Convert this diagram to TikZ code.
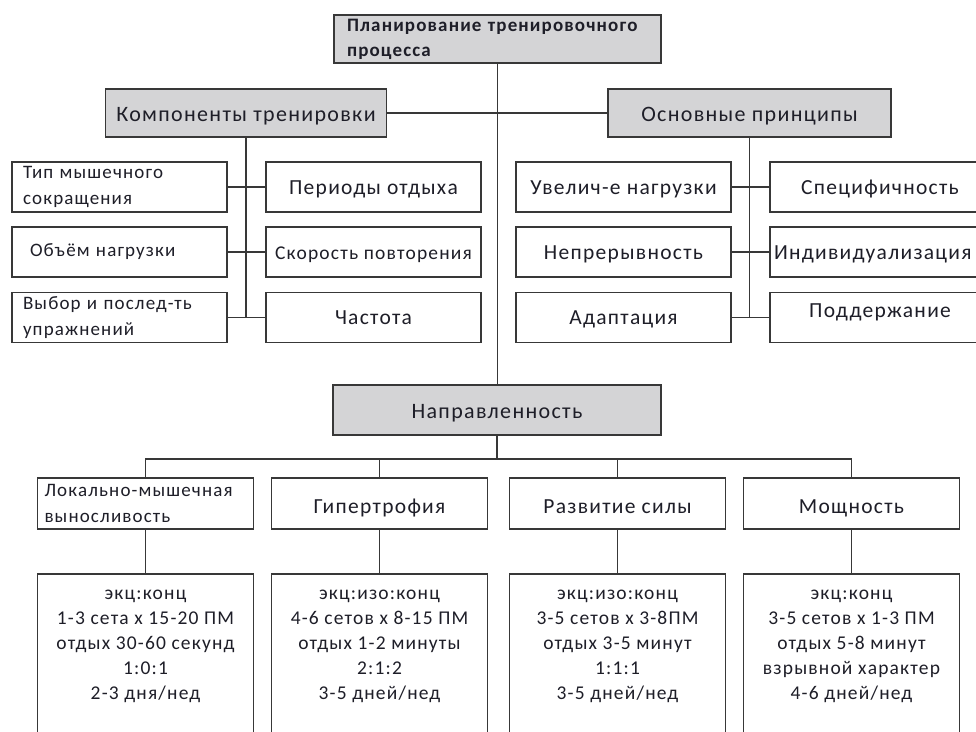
\documentclass[tikz,border=0pt]{standalone}
\usepackage{fontspec}
\setmainfont{Carlito}[LetterSpace=6]
\usepackage{xcolor}
\usepackage{tikz}
\usetikzlibrary{positioning}

\definecolor{linegray}{HTML}{383838}
\definecolor{boxgray}{HTML}{D4D4D6}
\definecolor{inkgray}{HTML}{1E1E28}

\begin{document}
\begin{tikzpicture}
  [
    x=1pt, y=-1pt,
    box/.style={draw=linegray, line width=1.6pt, fill=white,
      inner sep=0pt, text=inkgray, align=center},
    headbox/.style={box, fill=boxgray, minimum height=48pt},
    item/.style={box, minimum width=215pt, minimum height=50pt},
    kind/.style={box, minimum width=216pt, minimum height=51pt},
    note/.style={box, minimum width=216pt, minimum height=206pt},
    wire/.style={draw=linegray, line width=1.6pt},
    head/.style={font=\fontsize{22}{26}\selectfont, text height=18pt, text depth=1pt},
    big/.style={font=\fontsize{21.5}{26}\selectfont, text height=15pt, text depth=1pt},
    small/.style={font=\fontsize{19}{26}\selectfont},
    lines/.style={inner sep=0pt, text=inkgray, align=center,
      font=\fontsize{19.5}{25}\selectfont}
  ]
  \clip (0,0) rectangle (976,731);
  \fill[white] (0,0) rectangle (976,731);

  % top level
  \node (plan) at (497.5,39) [headbox, minimum width=327pt, text width=301pt, align=left,
    font=\fontsize{19}{25}\selectfont\bfseries] {Планирование~тренировочного\\процесса};
  \node (comp)  at (246,113)   [headbox, head] {\hspace*{11pt}Компоненты тренировки\hspace*{11pt}};
  \node (princ) at (749.5,113) [headbox, minimum width=283pt, head] {Основные принципы};

  % components
  \node (l1) at (119.5,187)   [item, small, text width=193pt, align=left] {Тип мышечного\\сокращения};
  \node (l2) at (119.5,252)   [item, small, text width=193pt, align=left] {\hspace{7pt}Объём нагрузки};
  \node (l3) at (119.5,317.5) [item, small, text width=193pt, align=left] {Выбор и послед-ть\\упражнений};
  \node (m1) at (373.5,187)   [item, big] {Периоды отдыха};
  \node (m2) at (373.5,252)   [item, big, font=\fontsize{19.5}{26}\selectfont] {Скорость повторения};
  \node (m3) at (373.5,317.5) [item, big] {Частота};

  % principles
  \node (p1) at (623.5,187)   [item, big] {Увелич-е нагрузки};
  \node (p2) at (623.5,252)   [item, big] {Непрерывность};
  \node (p3) at (623.5,317.5) [item, big] {Адаптация};
  \node (q1) at (880,187)     [item, big, minimum width=220pt] {Специфичность};
  \node (q2) at (880,252)     [item, big, minimum width=220pt, text width=212pt, align=left] {Индивидуализация};
  \node (q3) at (880,317.5)   [item, big, minimum width=220pt, text height=5pt, text depth=5pt] {Поддержание};

  % focus
  \node (napr) at (497,410) [headbox, minimum width=328pt, minimum height=50pt, head] {Направленность};
  \coordinate (bus) at (497,459);

  \node (d1) at (145.5,503.5) [kind, small, text width=202pt, align=left] {Локально-мышечная\\выносливость};
  \node (d2) at (379.5,503.5) [kind, big, text height=20pt] {Гипертрофия};
  \node (d3) at (617.5,503.5) [kind, big, text height=20pt] {Развитие силы};
  \node (d4) at (851.5,503.5) [kind, big, text height=20pt] {Мощность};

  \node (e1) at (145.5,677) [note] {};
  \node (e2) at (379.5,677) [note] {};
  \node (e3) at (617.5,677) [note] {};
  \node (e4) at (851.5,677) [note] {};

  \node (e1t) [below=17pt of e1.north, lines] {экц:конц\\1-3 сета х 15-20 ПМ\\отдых 30-60 секунд\\1:0:1\\2-3 дня/нед};
  \node (e2t) [below=17pt of e2.north, lines] {экц:изо:конц\\4-6 сетов х 8-15 ПМ\\отдых 1-2 минуты\\2:1:2\\3-5 дней/нед};
  \node (e3t) [below=17pt of e3.north, lines] {экц:изо:конц\\3-5 сетов х 3-8ПМ\\отдых 3-5 минут\\1:1:1\\3-5 дней/нед};
  \node (e4t) [below=17pt of e4.north, lines] {экц:конц\\3-5 сетов х 1-3 ПМ\\отдых 5-8 минут\\взрывной характер\\4-6 дней/нед};

  % connectors
  \draw [wire] (plan.south) -- (plan.south |- napr.north);
  \draw [wire] (comp.east) -- (princ.west);
  \draw [wire] (comp.south) -- (comp.south |- l3.east);
  \draw [wire] (princ.south) -- (princ.south |- p3.east);
  \foreach \i in {1,2,3} {
    \draw [wire] (l\i.east) -- (m\i.west);
    \draw [wire] (p\i.east) -- (q\i.west);
  }
  \draw [wire] (napr.south) -- (bus);
  \draw [wire] (d1.north) |- (bus) -| (d4.north);
  \draw [wire] (d2.north) -- (d2.north |- bus);
  \draw [wire] (d3.north) -- (d3.north |- bus);
  \foreach \i in {1,2,3,4}
    \draw [wire] (d\i.south) -- (e\i.north);
\end{tikzpicture}
\end{document}
